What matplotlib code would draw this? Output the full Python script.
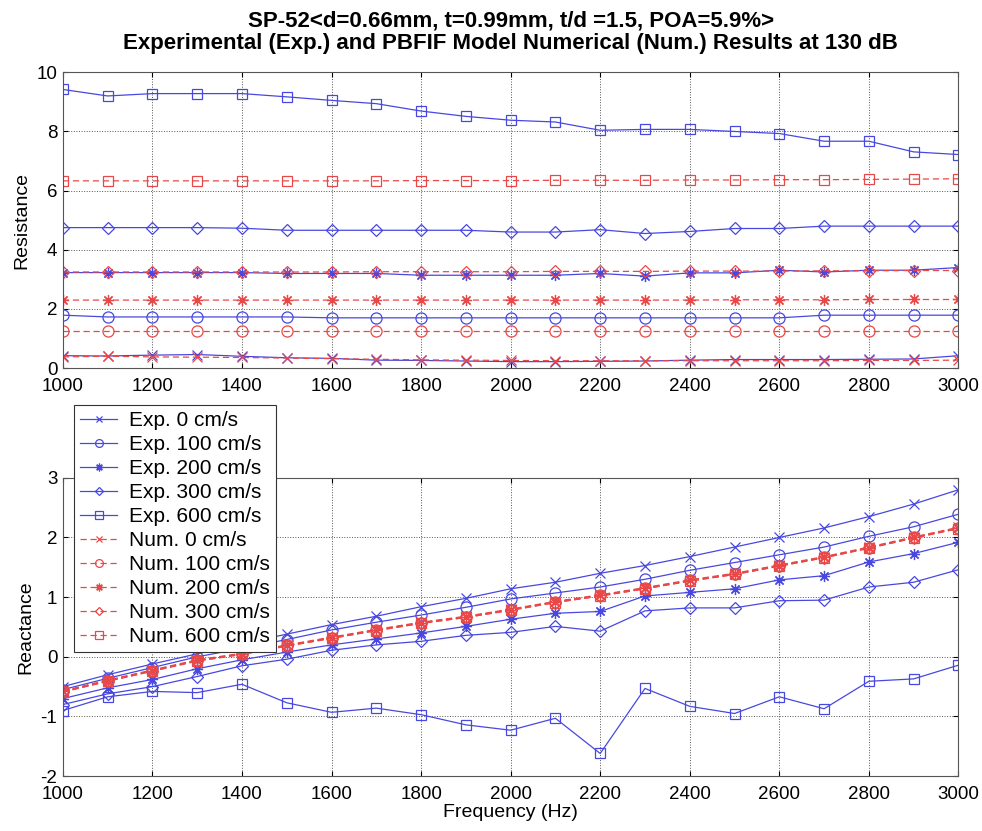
import numpy as np
import matplotlib
matplotlib.use("Agg")
from matplotlib import pyplot as plt

plt.rcParams['font.family'] = ['Liberation Sans', 'DejaVu Sans']
plt.rcParams['axes.unicode_minus'] = False

freq = [1000, 1100, 1200, 1300, 1400, 1500, 1600, 1700, 1800, 1900, 2000,
        2100, 2200, 2300, 2400, 2500, 2600, 2700, 2800, 2900, 3000]

# Resistance (top panel)
res_exp_0 = [0.42, 0.41, 0.44, 0.46, 0.40, 0.35, 0.33, 0.27, 0.26, 0.24, 0.22,
             0.22, 0.23, 0.24, 0.27, 0.29, 0.29, 0.29, 0.30, 0.31, 0.42]
res_exp_100 = [1.79, 1.73, 1.73, 1.73, 1.73, 1.73, 1.70, 1.70, 1.70, 1.70, 1.70,
               1.70, 1.70, 1.70, 1.70, 1.70, 1.70, 1.79, 1.79, 1.79, 1.79]
res_exp_200 = [3.23, 3.23, 3.23, 3.23, 3.23, 3.20, 3.20, 3.20, 3.14, 3.14, 3.14,
               3.14, 3.20, 3.11, 3.22, 3.22, 3.31, 3.25, 3.31, 3.31, 3.40]
res_exp_300 = [4.75, 4.75, 4.75, 4.75, 4.73, 4.66, 4.66, 4.66, 4.66, 4.66, 4.60,
               4.60, 4.68, 4.55, 4.62, 4.72, 4.72, 4.80, 4.80, 4.80, 4.80]
res_exp_600 = [9.42, 9.20, 9.28, 9.28, 9.28, 9.17, 9.05, 8.94, 8.69, 8.51, 8.38,
               8.32, 8.04, 8.07, 8.07, 8.00, 7.93, 7.67, 7.67, 7.31, 7.22]
res_num_0 = [0.38, 0.40, 0.38, 0.37, 0.36, 0.34, 0.32, 0.30, 0.28, 0.27, 0.26,
             0.25, 0.25, 0.25, 0.25, 0.25, 0.25, 0.25, 0.26, 0.26, 0.27]
res_num_100 = [1.25] * 21
res_num_200 = [2.30, 2.30, 2.30, 2.30, 2.30, 2.30, 2.30, 2.30, 2.30, 2.30, 2.30,
               2.30, 2.30, 2.30, 2.30, 2.31, 2.31, 2.31, 2.32, 2.32, 2.32]
res_num_300 = [3.25, 3.25, 3.25, 3.25, 3.25, 3.25, 3.25, 3.26, 3.26, 3.26, 3.26,
               3.27, 3.27, 3.27, 3.28, 3.28, 3.28, 3.29, 3.29, 3.30, 3.30]
res_num_600 = [6.33, 6.33, 6.33, 6.33, 6.33, 6.33, 6.33, 6.33, 6.34, 6.34, 6.34,
               6.35, 6.35, 6.35, 6.36, 6.36, 6.37, 6.37, 6.38, 6.39, 6.40]

# Reactance (bottom panel)
rea_exp_0 = [-0.50, -0.30, -0.12, 0.05, 0.22, 0.38, 0.54, 0.68, 0.84, 0.98, 1.14,
             1.25, 1.40, 1.53, 1.68, 1.84, 2.00, 2.16, 2.35, 2.56, 2.80]
rea_exp_100 = [-0.55, -0.36, -0.18, 0.00, 0.14, 0.29, 0.45, 0.58, 0.70, 0.83, 0.97,
               1.07, 1.17, 1.30, 1.45, 1.58, 1.71, 1.84, 2.02, 2.18, 2.39]
rea_exp_200 = [-0.70, -0.52, -0.38, -0.20, -0.05, 0.08, 0.20, 0.30, 0.40, 0.51, 0.63,
               0.73, 0.76, 1.02, 1.08, 1.14, 1.29, 1.36, 1.59, 1.73, 1.92]
rea_exp_300 = [-0.80, -0.62, -0.50, -0.33, -0.15, -0.04, 0.11, 0.20, 0.26, 0.36, 0.41,
               0.51, 0.43, 0.77, 0.82, 0.82, 0.94, 0.95, 1.17, 1.25, 1.46]
rea_exp_600 = [-0.90, -0.67, -0.58, -0.60, -0.46, -0.77, -0.93, -0.86, -0.97, -1.14, -1.23,
               -1.03, -1.62, -0.53, -0.83, -0.95, -0.67, -0.87, -0.41, -0.37, -0.14]
rea_num_0 = [-0.57, -0.39, -0.22, -0.05, 0.06, 0.20, 0.33, 0.46, 0.58, 0.68, 0.80,
             0.93, 1.04, 1.16, 1.29, 1.40, 1.54, 1.68, 1.84, 2.01, 2.17]
rea_num_100 = [-0.58, -0.40, -0.23, -0.06, 0.05, 0.19, 0.32, 0.45, 0.57, 0.67, 0.79,
               0.92, 1.03, 1.15, 1.28, 1.39, 1.53, 1.67, 1.83, 2.00, 2.16]
rea_num_200 = [-0.58, -0.40, -0.23, -0.06, 0.05, 0.19, 0.32, 0.45, 0.57, 0.67, 0.79,
               0.92, 1.03, 1.15, 1.28, 1.39, 1.53, 1.67, 1.83, 2.00, 2.16]
rea_num_300 = [-0.59, -0.41, -0.24, -0.07, 0.04, 0.18, 0.31, 0.44, 0.56, 0.66, 0.78,
               0.91, 1.02, 1.14, 1.27, 1.38, 1.52, 1.66, 1.82, 1.99, 2.15]
rea_num_600 = [-0.59, -0.41, -0.24, -0.07, 0.04, 0.18, 0.31, 0.44, 0.56, 0.66, 0.78,
               0.91, 1.02, 1.14, 1.27, 1.38, 1.52, 1.66, 1.82, 1.99, 2.15]

labels = ['Exp. 0 cm/s', 'Exp. 100 cm/s', 'Exp. 200 cm/s', 'Exp. 300 cm/s', 'Exp. 600 cm/s',
          'Num. 0 cm/s', 'Num. 100 cm/s', 'Num. 200 cm/s', 'Num. 300 cm/s', 'Num. 600 cm/s']
markers = ['x', 'o', (8, 2, 0), 'D', 's']
msizes = [7, 8, 8, 6.5, 7.5]

blue = '#4848e0'
red = '#e84848'

fig = plt.figure(figsize=(9.82, 8.31), dpi=100)
ax1 = fig.add_axes([0.064, 0.557, 0.912, 0.356])
ax2 = fig.add_axes([0.064, 0.066, 0.912, 0.359])


def draw(ax, exp_sets, num_sets):
    handles = []
    for m, s, ys in zip(markers, msizes, exp_sets):
        h, = ax.plot(freq, ys, color=blue, lw=0.9, marker=m, ms=s, mfc='none',
                     mew=0.9)
        handles.append(h)
    for m, s, ys in zip(markers, msizes, num_sets):
        h, = ax.plot(freq, ys, color=red, lw=0.9, ls=(0, (5, 3)), marker=m, ms=s,
                     mfc='none', mew=0.9)
        handles.append(h)
    ax.set_xlim(1000, 3000)
    ax.set_xticks(np.arange(1000, 3001, 200))
    ax.grid(True, ls=':', color='#555555', lw=0.7)
    ax.tick_params(direction='in', labelsize=13.5, top=True, right=True)
    ax.tick_params(axis='x', pad=7)
    ax.tick_params(axis='y', pad=4)
    for s in ax.spines.values():
        s.set_color('#555555')
    return handles


draw(ax1, [res_exp_0, res_exp_100, res_exp_200, res_exp_300, res_exp_600],
     [res_num_0, res_num_100, res_num_200, res_num_300, res_num_600])
ax1.set_ylim(0, 10)
ax1.set_yticks([0, 2, 4, 6, 8, 10])
ax1.set_ylabel('Resistance', fontsize=14, labelpad=4)
ax1.set_title('SP-52<d=0.66mm, t=0.99mm, t/d =1.5, POA=5.9%>\n'
              'Experimental (Exp.) and PBFIF Model Numerical (Num.) Results at 130 dB',
              fontsize=16, fontweight='bold', pad=17, linespacing=1.1)

h = draw(ax2, [rea_exp_0, rea_exp_100, rea_exp_200, rea_exp_300, rea_exp_600],
         [rea_num_0, rea_num_100, rea_num_200, rea_num_300, rea_num_600])
ax2.set_ylim(-2, 3)
ax2.set_yticks([-2, -1, 0, 1, 2, 3])
ax2.set_ylabel('Reactance', fontsize=14, labelpad=4)
ax2.set_xlabel('Frequency (Hz)', fontsize=14, labelpad=1)

leg = fig.legend(h, labels, loc='upper left', bbox_to_anchor=(0.075, 0.513),
                 fontsize=15, frameon=True, fancybox=False, framealpha=1,
                 edgecolor='#333333', handlelength=1.8, labelspacing=0.24,
                 borderpad=0.3, handletextpad=0.55, borderaxespad=0,
                 markerscale=0.7)
leg.get_frame().set_linewidth(0.8)

plt.savefig('out.png', dpi=100)
